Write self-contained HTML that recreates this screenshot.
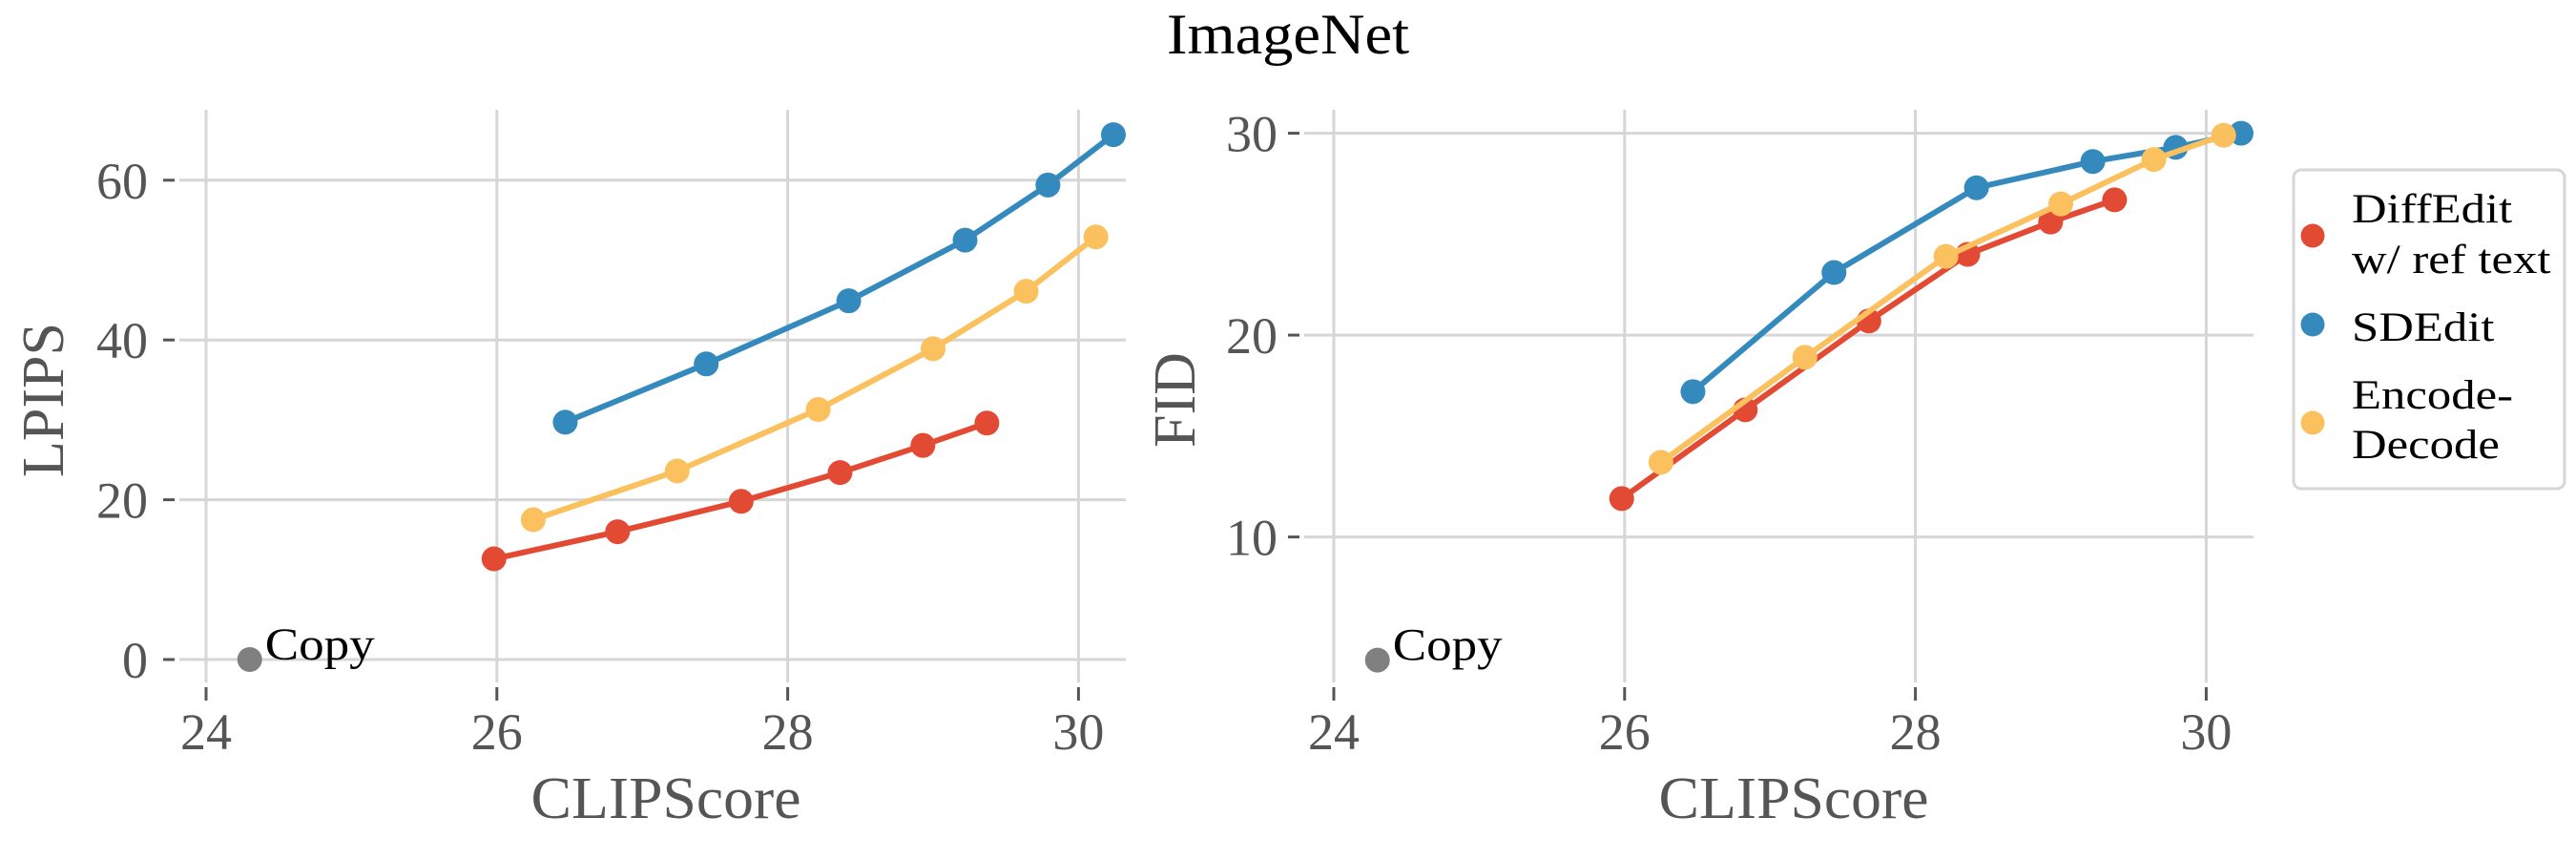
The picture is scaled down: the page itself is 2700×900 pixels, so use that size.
<!DOCTYPE html>
<html><head><meta charset="utf-8">
<style>
html,body{margin:0;padding:0;background:#fff;}
svg{display:block;font-family:"Liberation Serif",serif;}
</style></head>
<body>
<svg id="chart" width="2700" height="900" viewBox="0 0 2700 900" xmlns="http://www.w3.org/2000/svg">
<text x="1350" y="56" font-size="60" text-anchor="middle" fill="#000" textLength="254" lengthAdjust="spacingAndGlyphs">ImageNet</text>
<g id="p1"></g>
<g id="p2"></g>
<g id="legend">
<rect x="2404" y="178" width="284" height="334" rx="8" fill="#fff" stroke="#d6d6d6" stroke-width="3"/>
<g>
<circle cx="2424" cy="247" r="12.5" fill="#E24A33"/>
<text transform="translate(2465,233) scale(1.18,1)" font-size="43">DiffEdit</text>
<text transform="translate(2465,286) scale(1.18,1)" font-size="43">w/ ref text</text></g>
<g>
<circle cx="2424" cy="340" r="12.5" fill="#348ABD"/>
<text transform="translate(2465,357) scale(1.18,1)" font-size="43">SDEdit</text></g>
<g>
<circle cx="2424" cy="443" r="12.5" fill="#FBC15E"/>
<text transform="translate(2465,428) scale(1.18,1)" font-size="43">Encode-</text>
<text transform="translate(2465,480) scale(1.18,1)" font-size="43">Decode</text></g>
</g>
</svg>
<script>
const xTicks = [24, 26, 28, 30];
const lpipsTicks = [0, 20, 40, 60];
const fidTicks = [10, 20, 30];
const seriesNames = ["DiffEdit w/ ref text", "SDEdit", "Encode-Decode"];
const seriesColors = ["#E24A33", "#348ABD", "#FBC15E"];
const diffClip = [25.98, 26.83, 27.68, 28.36, 28.93, 29.37];
const diffLpips = [12.6, 16.0, 19.8, 23.4, 26.8, 29.6];
const diffFid = [11.9, 16.3, 20.7, 24.0, 25.6, 26.7];
const sdClip = [26.47, 27.44, 28.42, 29.22, 29.79, 30.24];
const sdLpips = [29.7, 37.0, 44.9, 52.5, 59.4, 65.7];
const sdFid = [17.2, 23.1, 27.3, 28.6, 29.3, 30.0];
const encClip = [26.25, 27.24, 28.21, 29.00, 29.64, 30.12];
const encLpips = [17.5, 23.6, 31.3, 38.9, 46.1, 52.9];
const encFid = [13.7, 18.9, 23.9, 26.5, 28.7, 29.9];
const copyClip = 24.3;
const copyLpips = 0;
const copyFid = 3.9;

const NS = "http://www.w3.org/2000/svg";
function mk(parent, tag, attrs, text){
  const e = document.createElementNS(NS, tag);
  for (const k in attrs) e.setAttribute(k, attrs[k]);
  if (text !== undefined) e.textContent = text;
  parent.appendChild(e);
  return e;
}
function panel(g, cfg){
  const sx = v => cfg.x0 + (v - 24) * 152.4;
  const sy = v => cfg.yBase - (v - cfg.yRef) * cfg.ppu;
  xTicks.forEach(t => {
    const l = mk(g, "line", {x1:sx(t), x2:sx(t), y1:115, y2:715, stroke:"#d6d6d6", "stroke-width":3});
    
    
    mk(g, "line", {x1:sx(t), x2:sx(t), y1:720, y2:734, stroke:"#555", "stroke-width":3});
    const tl = mk(g, "text", {x:sx(t), y:785, "font-size":54, fill:"#555", "text-anchor":"middle"}, t);
    
    
  });
  cfg.ticks.forEach(t => {
    const l = mk(g, "line", {x1:cfg.gx0, x2:cfg.gx1, y1:sy(t), y2:sy(t), stroke:"#d6d6d6", "stroke-width":3});
    
    
    mk(g, "line", {x1:cfg.gx0-17, x2:cfg.gx0-5, y1:sy(t), y2:sy(t), stroke:"#555", "stroke-width":3});
    const tl = mk(g, "text", {x:cfg.labX, y:sy(t)+19, "font-size":54, fill:"#555", "text-anchor":"end"}, t);
    
    
  });
  const xt = mk(g, "text", {x:(sx(24)+cfg.gx1)/2, y:857, "font-size":62, fill:"#555", "text-anchor":"middle", textLength:283, lengthAdjust:"spacingAndGlyphs"}, "CLIPScore");
  
  
  const yt = mk(g, "text", {x:0, y:0, "font-size":62, fill:"#555", "text-anchor":"middle", transform:`translate(${cfg.ylX},419) rotate(-90)`}, cfg.ylabel);
  
  
  cfg.series.forEach((s, i) => {
    const pts = s.x.map((v, j) => sx(v) + "," + sy(s.y[j])).join(" ");
    const pl = mk(g, "polyline", {points:pts, fill:"none", stroke:seriesColors[i], "stroke-width":6, "stroke-linejoin":"round"});
    
    
    s.x.forEach((v, j) => {
      const c = mk(g, "circle", {cx:sx(v), cy:sy(s.y[j]), r:13, fill:seriesColors[i]});
      
      
    });
  });
  const cp = mk(g, "circle", {cx:sx(copyClip), cy:sy(cfg.copy), r:13, fill:"#808080"});
  
  
  const ct = mk(g, "text", {x:sx(copyClip)+16, y:sy(cfg.copy), "font-size":48, fill:"#000", textLength:115, lengthAdjust:"spacingAndGlyphs"}, "Copy");
  
  
}
panel(document.getElementById("p1"), {
  x0:216, gx0:188, gx1:1180, yBase:691, yRef:0, ppu:8.37, ticks:lpipsTicks, labX:155, ylX:66, ylabel:"LPIPS", copy:copyLpips,
  series:[{x:diffClip,y:diffLpips},{x:sdClip,y:sdLpips},{x:encClip,y:encLpips}]
});
panel(document.getElementById("p2"), {
  x0:1398, gx0:1367, gx1:2362, yBase:562.6, yRef:10, ppu:21.15, ticks:fidTicks, labX:1339, ylX:1252, ylabel:"FID", copy:copyFid,
  series:[{x:diffClip,y:diffFid},{x:sdClip,y:sdFid},{x:encClip,y:encFid}]
});
</script>
</body></html>
